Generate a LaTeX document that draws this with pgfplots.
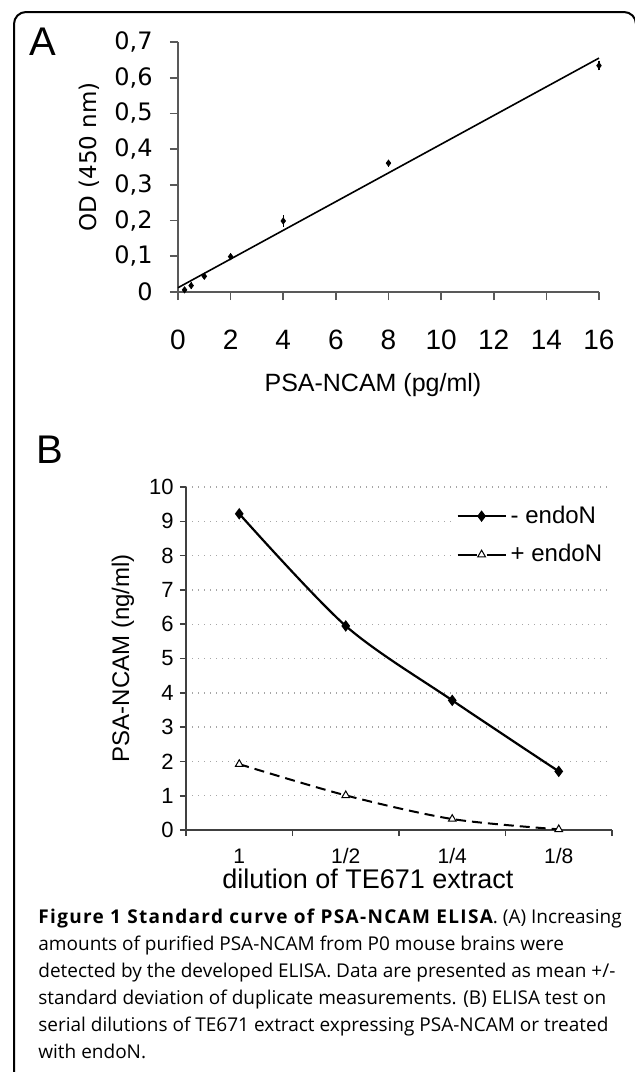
\documentclass[border=0pt]{standalone}
\usepackage{fontspec}
\setmainfont{Liberation Sans}
\newfontfamily\dejavu{DejaVu Sans}
\newfontfamily\capfont{Open Sans}
\newfontfamily\capbold[LetterSpace=7]{Open Sans Bold}
\usepackage{pgfplots}
\pgfplotsset{compat=1.18}

\begin{document}
\begin{tikzpicture}
\useasboundingbox (0,0) rectangle (317.5pt,-536pt);
% frame of the figure
\draw[line width=1pt, rounded corners=6pt] (7pt,-545pt) -- (7pt,-6pt) -- (318pt,-6pt) -- (318pt,-545pt);

\node[font=\fontsize{20}{20}\selectfont] at (21.5pt,-21pt) {A};
\node[font=\fontsize{20}{20}\selectfont] at (25pt,-225pt) {B};

% panel A
\begin{axis}[
  at={(89pt,-146pt)}, anchor=south west,
  scale only axis, width=210.5pt, height=125pt,
  xmin=0, xmax=16, ymin=0, ymax=0.7,
  clip=false,
  axis x line=bottom, axis y line=left,
  axis line style={-, draw=black!65, line width=0.8pt},
  tick style={draw=black!65, line width=0.8pt},
  tick align=outside, major tick length=4pt,
  xtick={0,2,4,6,8,10,12,14,16},
  xticklabels={0,2,4,6,8,10,12,14,16},
  ytick={0,0.1,0.2,0.3,0.4,0.5,0.6,0.7},
  yticklabels={0,{0,1},{0,2},{0,3},{0,4},{0,5},{0,6},{0,7}},
  xticklabel style={font=\fontsize{14}{14}\selectfont, anchor=center, inner sep=0pt, yshift=-20pt},
  yticklabel style={font=\dejavu\fontsize{12}{12}\selectfont, anchor=east, inner sep=0pt, xshift=-8.5pt},
  xlabel={PSA-NCAM (pg/ml)},
  ylabel={\dejavu OD (450 nm)},
  xlabel style={font=\fontsize{12.5}{12.5}\selectfont, at={(axis description cs:0.463,-0.372)}, anchor=center, inner sep=0pt},
  ylabel style={font=\fontsize{11.5}{11.5}\selectfont, at={(axis description cs:-0.211,0.54)}, anchor=center, inner sep=0pt},
]
\addplot[black, line width=0.8pt] coordinates {(0,0.012) (16,0.655)};
\addplot[black, only marks, mark=diamond*, mark size=1.5pt,
  error bars/.cd, y dir=both, y explicit,
  error bar style={line width=0.6pt}, error mark options={mark size=1pt, line width=0.6pt}]
  coordinates {
  (0.25,0.006) +- (0,0.003)
  (0.5,0.018) +- (0,0.004)
  (1,0.044) +- (0,0.003)
  (2,0.099) +- (0,0.004)
  (4,0.199) +- (0,0.010)
  (8,0.361) +- (0,0.004)
  (16,0.634) +- (0,0.008)
};
\end{axis}

% panel B
\begin{axis}[
  at={(93pt,-415pt)}, anchor=south west,
  scale only axis, width=213pt, height=171.5pt,
  xmin=0, xmax=4, ymin=0, ymax=10,
  clip=false,
  axis x line=bottom, axis y line=left,
  axis line style={-, draw=black!75, line width=0.8pt},
  tick style={draw=black!75, line width=0.8pt},
  tick align=outside, major tick length=3pt, minor tick length=3pt,
  xtick={0.5,1.5,2.5,3.5}, xticklabels={1,1/2,1/4,1/8},
  major x tick style={draw=none},
  minor xtick={0,1,2,3,4},
  ytick={0,1,2,3,4,5,6,7,8,9,10},
  yticklabels={0,1,2,3,4,5,6,7,8,9,10},
  ymajorgrids,
  y grid style={draw=black!35, line width=0.7pt, dash pattern=on 0.7pt off 2.3pt},
  xticklabel style={font=\fontsize{10.5}{10.5}\selectfont, anchor=center, inner sep=0pt, yshift=-10pt},
  yticklabel style={font=\fontsize{11}{11}\selectfont, anchor=east, inner sep=0pt, xshift=-3pt},
  xlabel={dilution of TE671 extract},
  ylabel={PSA-NCAM (ng/ml)},
  xlabel style={font=\fontsize{13.5}{13.5}\selectfont, at={(axis description cs:0.427,-0.142)}, anchor=center, inner sep=0pt},
  ylabel style={font=\fontsize{12}{12}\selectfont, at={(axis description cs:-0.148,0.501)}, anchor=center, inner sep=0pt},
  legend style={at={(0.62,0.975)}, anchor=north west, draw=none, fill=white,
    font=\fontsize{12}{12}\selectfont, inner xsep=3pt, inner ysep=3pt, row sep=5pt,
    cells={anchor=west}},
  legend image code/.code={\draw[mark repeat=2, mark phase=2, #1] plot coordinates {(0pt,0pt) (12pt,0pt) (24pt,0pt)};},
]
\addplot[black, line width=1.1pt, smooth, mark=diamond*, mark size=2pt]
  coordinates {(0.5,9.22) (1.5,5.95) (2.5,3.78) (3.5,1.71)};
\addlegendentry{- endoN}
\addplot[black, line width=1pt, smooth, dash pattern=on 5pt off 3pt,
  mark=triangle*, mark size=2.2pt, mark options={solid, fill=white, line width=0.5pt},
  legend image post style={dash pattern=on 9.5pt off 5pt}]
  coordinates {(0.5,1.92) (1.5,1.01) (2.5,0.32) (3.5,0.02)};
\addlegendentry{+ endoN}
\end{axis}

% caption
\begin{scope}[every node/.style={anchor=base west, inner sep=0pt, font=\capfont\fontsize{9.5}{12}\selectfont}]
\node at (19pt,-461.5pt) {{\capbold Figure 1 Standard curve of PSA-NCAM ELISA}. (A) Increasing};
\node at (19pt,-475pt) {amounts of purified PSA-NCAM from P0 mouse brains were};
\node at (19pt,-488.5pt) {detected by the developed ELISA. Data are presented as mean +/-};
\node at (19pt,-502pt) {standard deviation of duplicate measurements. (B) ELISA test on};
\node at (19pt,-515.5pt) {serial dilutions of TE671 extract expressing PSA-NCAM or treated};
\node at (19pt,-529pt) {with endoN.};
\end{scope}
\end{tikzpicture}
\end{document}
